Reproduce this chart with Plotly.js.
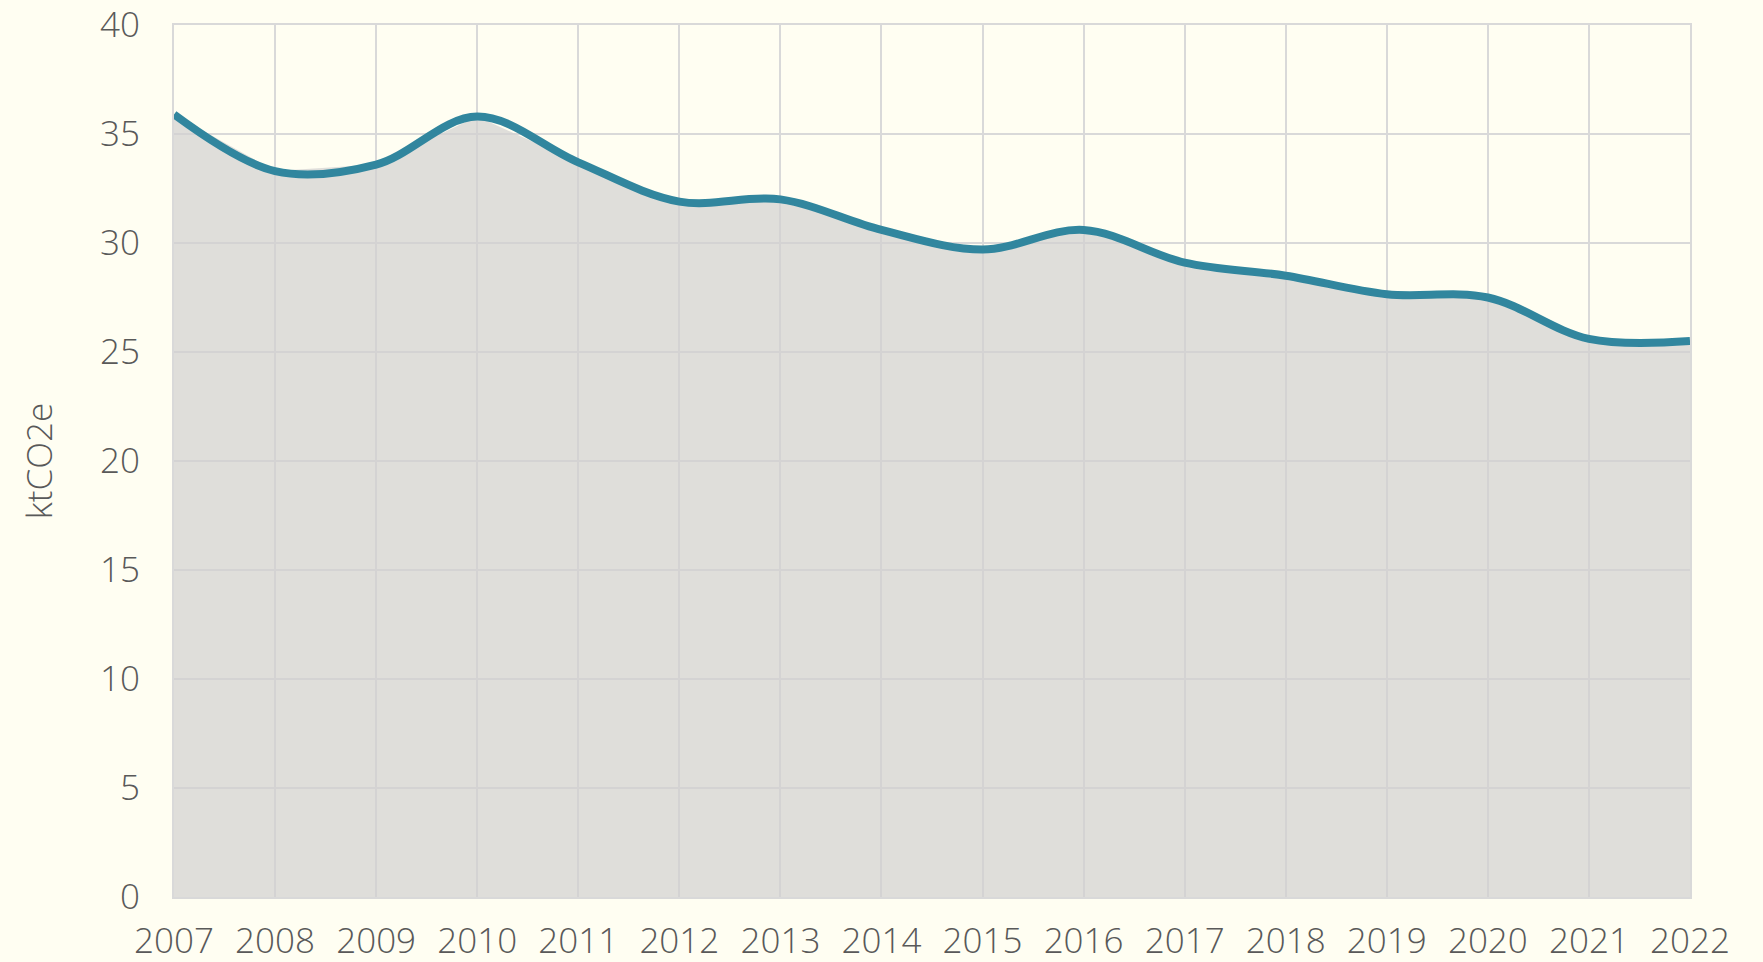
<!DOCTYPE html>
<html>
<head>
<meta charset="utf-8">
<script src="https://cdn.plot.ly/plotly-3.0.1.min.js"></script>
<style>
html,body{margin:0;padding:0;background:#fffef2;}
#chart{width:1763px;height:962px;}
</style>
</head>
<body>
<div id="chart"></div>
<script>
const years = [2007,2008,2009,2010,2011,2012,2013,2014,2015,2016,2017,2018,2019,2020,2021,2022];
const emissions = [35.9,33.3,33.6,35.8,33.7,31.9,32.0,30.6,29.7,30.6,29.1,28.5,27.65,27.5,25.6,25.5];
const yTicks = [0,5,10,15,20,25,30,35,40];
const yAxisLabel = "ktCO2e";

const fontFamily = '"Open Sans", "Noto Sans", sans-serif';
const textColor = '#595959';
const gridColor = '#d9d9d9';
const fontSize = 35;

const traces = [
  {
    x: years, y: emissions, type: 'scatter', mode: 'lines',
    fill: 'tozeroy', fillcolor: 'rgba(210,209,208,0.71)',
    line: {width: 0, shape: 'linear'}, hoverinfo: 'skip', showlegend: false
  },
  {
    x: years, y: emissions, type: 'scatter', mode: 'lines',
    line: {color: '#31869e', width: 8, shape: 'spline', smoothing: 1},
    showlegend: false
  }
];

const layout = {
  width: 1763, height: 962,
  paper_bgcolor: '#fffef2', plot_bgcolor: '#fffef2',
  margin: {l: 174, r: 73, t: 25, b: 65, pad: 0},
  font: {family: fontFamily, color: textColor, size: fontSize, weight: 300},
  showlegend: false,
  xaxis: {
    type: 'linear', range: [2007, 2022], tickmode: 'array', tickvals: years,
    ticktext: years.map(String),
    showgrid: true, gridcolor: gridColor, gridwidth: 2,
    showline: true, linecolor: gridColor, linewidth: 2, mirror: true,
    ticks: '', ticklabelstandoff: 12, zeroline: false,
    tickfont: {family: fontFamily, color: textColor, size: fontSize, weight: 300}
  },
  yaxis: {
    range: [0, 40], tickmode: 'array', tickvals: yTicks,
    showgrid: true, gridcolor: gridColor, gridwidth: 2,
    showline: true, linecolor: gridColor, linewidth: 2, mirror: true,
    ticks: '', ticklabelstandoff: 25, zeroline: false,
    tickfont: {family: fontFamily, color: textColor, size: fontSize, weight: 300},
    title: {text: yAxisLabel, standoff: 37, font: {family: fontFamily, color: textColor, size: fontSize, weight: 300}}
  }
};

Plotly.newPlot('chart', traces, layout, {displayModeBar: false, staticPlot: true});
</script>
</body>
</html>
